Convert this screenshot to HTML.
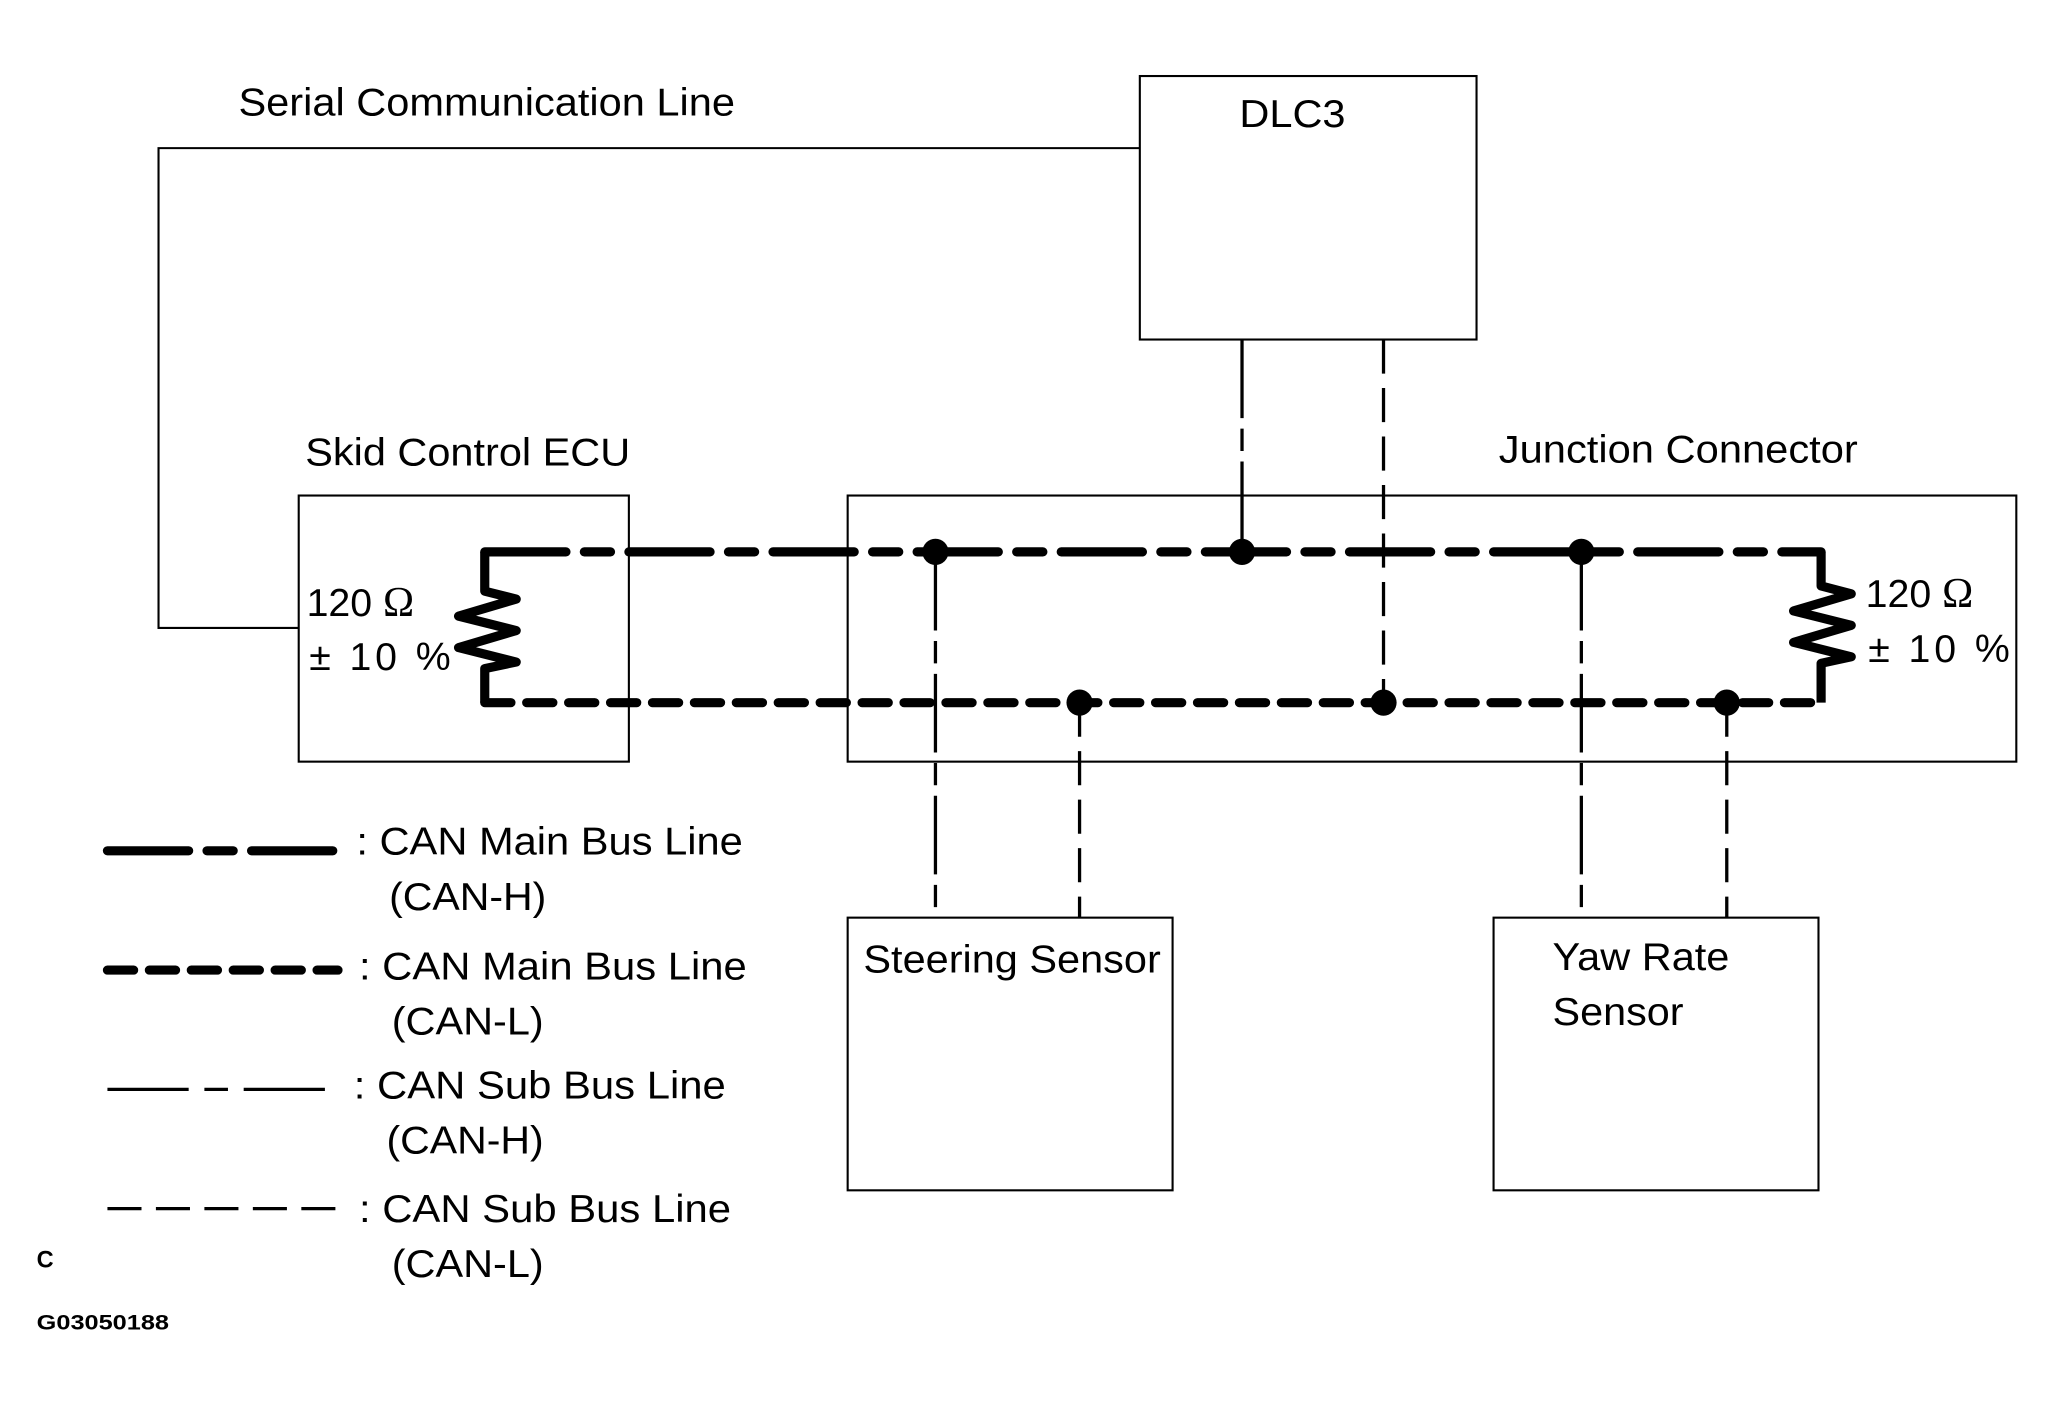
<!DOCTYPE html>
<html><head><meta charset="utf-8"><style>
html,body{margin:0;padding:0;background:#fff;}
svg{display:block;}
text{font-family:"Liberation Sans",sans-serif;fill:#000;}
</style></head><body>
<svg width="2053" height="1404" viewBox="0 0 1567 1071" preserveAspectRatio="none" xmlns="http://www.w3.org/2000/svg">
<g fill="none" stroke="#000" stroke-width="1.6">
<rect x="870" y="58" width="257" height="201"/>
<rect x="228" y="378" width="252" height="203"/>
<rect x="647" y="378" width="892" height="203"/>
<rect x="647" y="700" width="248" height="208"/>
<rect x="1140" y="700" width="248" height="208"/>
<polyline points="870,113 121,113 121,479 228,479"/>
</g>
<g fill="none" stroke="#000" stroke-width="2.5" stroke-dasharray="60 8 17 8">
<line x1="948" y1="259" x2="948" y2="421"/>
<line x1="714" y1="421" x2="714" y2="700"/>
<line x1="1207" y1="421" x2="1207" y2="700"/>
<line x1="82" y1="831" x2="255" y2="831" stroke-dasharray="62 12 18 12"/>
</g>
<g fill="none" stroke="#000" stroke-width="2.5" stroke-dasharray="26 11">
<line x1="1056" y1="259" x2="1056" y2="536"/>
<line x1="824" y1="536" x2="824" y2="700"/>
<line x1="1318" y1="536" x2="1318" y2="700"/>
<line x1="82" y1="922" x2="258" y2="922"/>
</g>
<g fill="none" stroke="#000" stroke-width="7" stroke-linecap="round">
<line x1="370" y1="421" x2="1390" y2="421" stroke-dasharray="62 14 20 14"/>
<line x1="370" y1="536" x2="1390" y2="536" stroke-dasharray="20 12"/>
<line x1="82" y1="649" x2="255" y2="649" stroke-dasharray="62 14 20 14"/>
<line x1="82" y1="740" x2="258" y2="740" stroke-dasharray="20 12"/>
</g>
<g fill="none" stroke="#000" stroke-width="7" stroke-linejoin="round">
<polyline points="370,421 370,451 394,457 350,470 394,481 350,494 394,505 370,510 370,536"/>
<polyline points="1390,421 1390,447 1413,453 1369,466 1413,477 1369,490 1413,501 1390,506 1390,536"/>
</g>
<g fill="#000">
<circle cx="714" cy="421" r="10"/><circle cx="948" cy="421" r="10"/><circle cx="1207" cy="421" r="10"/>
<circle cx="824" cy="536" r="10"/><circle cx="1056" cy="536" r="10"/><circle cx="1318" cy="536" r="10"/>
</g>
<g font-size="30">
<text x="182" y="88" textLength="379" lengthAdjust="spacingAndGlyphs">Serial Communication Line</text>
<text x="946" y="97" textLength="81" lengthAdjust="spacingAndGlyphs">DLC3</text>
<text x="233" y="355" textLength="248" lengthAdjust="spacingAndGlyphs">Skid Control ECU</text>
<text x="1144" y="353" textLength="274" lengthAdjust="spacingAndGlyphs">Junction Connector</text>
<text x="234" y="470">120 <tspan font-family="Liberation Serif" font-size="32">Ω</tspan></text>
<text x="236" y="511" textLength="108" lengthAdjust="spacing">±  10 %</text>
<text x="1424" y="463">120 <tspan font-family="Liberation Serif" font-size="32">Ω</tspan></text>
<text x="1426" y="505" textLength="108" lengthAdjust="spacing">±  10 %</text>
<text x="659" y="742" textLength="227" lengthAdjust="spacingAndGlyphs">Steering Sensor</text>
<text x="1185" y="740" textLength="135" lengthAdjust="spacingAndGlyphs">Yaw Rate</text>
<text x="1185" y="782" textLength="100" lengthAdjust="spacingAndGlyphs">Sensor</text>
<text x="272" y="652" textLength="295" lengthAdjust="spacingAndGlyphs">: CAN Main Bus Line</text>
<text x="297" y="694" textLength="120" lengthAdjust="spacingAndGlyphs">(CAN-H)</text>
<text x="274" y="747" textLength="296" lengthAdjust="spacingAndGlyphs">: CAN Main Bus Line</text>
<text x="299" y="789" textLength="116" lengthAdjust="spacingAndGlyphs">(CAN-L)</text>
<text x="270" y="838" textLength="284" lengthAdjust="spacingAndGlyphs">: CAN Sub Bus Line</text>
<text x="295" y="880" textLength="120" lengthAdjust="spacingAndGlyphs">(CAN-H)</text>
<text x="274" y="932" textLength="284" lengthAdjust="spacingAndGlyphs">: CAN Sub Bus Line</text>
<text x="299" y="974" textLength="116" lengthAdjust="spacingAndGlyphs">(CAN-L)</text>
</g>
<text x="28" y="967" font-size="18" font-weight="bold">C</text>
<text x="28" y="1014" font-size="16" font-weight="bold" textLength="101" lengthAdjust="spacingAndGlyphs">G03050188</text>
</svg>
</body></html>
